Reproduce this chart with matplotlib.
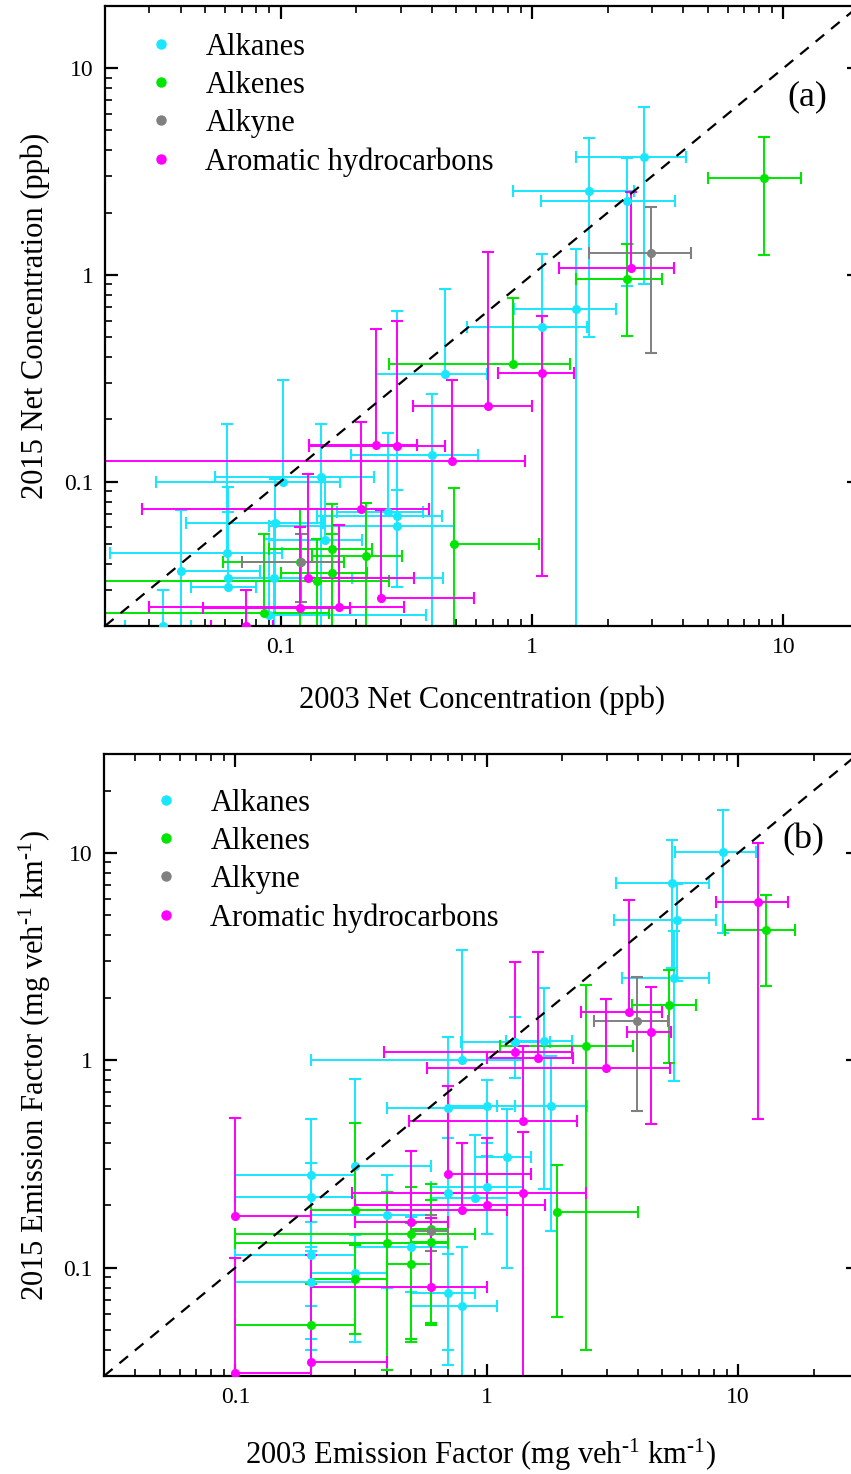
import numpy as np
import matplotlib
matplotlib.use("Agg")
import matplotlib.pyplot as plt
from matplotlib.lines import Line2D

plt.rcParams['font.family'] = ['Liberation Serif', 'DejaVu Serif']
plt.rcParams['mathtext.fontset'] = 'custom'
plt.rcParams['mathtext.rm'] = 'Liberation Serif'
plt.rcParams['mathtext.it'] = 'Liberation Serif'
plt.rcParams['mathtext.default'] = 'regular'

# colours
C_ALKANE = '#19E6FF'
C_ALKENE = '#00E600'
C_ALKYNE = '#808080'
C_AROM = '#FF00FF'

groups = ['Alkanes', 'Alkenes', 'Alkyne', 'Aromatic hydrocarbons']
colors = [C_ALKANE, C_ALKENE, C_ALKYNE, C_AROM]

# ---------------- panel (a): net concentration (ppb) ----------------
# x = 2003, y = 2015, errors are +/- (symmetric)
a_alkane_x = [2.8, 1.69, 2.39, 1.5, 1.1, 0.45, 0.40, 0.102, 0.145, 0.15, 0.061, 0.062,
              0.062, 0.040, 0.09, 0.094, 0.095, 0.034, 0.29, 0.29, 0.267]
a_alkane_xerr = [1.3, 0.85, 1.3, 0.65, 0.55, 0.21, 0.21, 0.07, 0.09, 0.06, 0.04, 0.13,
                 0.018, 0.043, 0.29, 0.35, 0.053, 0.01, 0.15, 0.2, 0.1]
a_alkane_y = [3.7, 2.55, 2.28, 0.68, 0.56, 0.33, 0.134, 0.099, 0.105, 0.052, 0.045, 0.034,
              0.031, 0.037, 0.0225, 0.034, 0.063, 0.02, 0.068, 0.061, 0.071]
a_alkane_yerr = [2.8, 2.05, 1.4, 0.66, 0.7, 0.52, 0.13, 0.21, 0.085, 0.053, 0.145, 0.06,
                 0.04, 0.036, 0.03, 0.03, 0.04, 0.01, 0.6, 0.03, 0.1]

a_alkene_x = [8.4, 2.39, 0.84, 0.49, 0.16, 0.119, 0.218, 0.16, 0.139, 0.086]
a_alkene_xerr = [3.4, 0.9, 0.57, 0.58, 0.07, 0.06, 0.085, 0.06, 0.13, 0.07]
a_alkene_y = [2.95, 0.956, 0.37, 0.05, 0.047, 0.041, 0.0435, 0.036, 0.033, 0.023]
a_alkene_yerr = [1.7, 0.45, 0.4, 0.043, 0.031, 0.033, 0.035, 0.02, 0.02, 0.033]

a_alkyne_x = [2.98, 0.12]
a_alkyne_xerr = [1.3, 0.05]
a_alkyne_y = [1.28, 0.041]
a_alkyne_yerr = [0.86, 0.015]

a_arom_x = [2.48, 1.1, 0.667, 0.48, 0.24, 0.29, 0.208, 0.128, 0.25, 0.17, 0.119, 0.073]
a_arom_xerr = [1.2, 0.37, 0.33, 0.46, 0.11, 0.16, 0.18, 0.21, 0.34, 0.14, 0.07, 0.02]
a_arom_y = [1.08, 0.335, 0.232, 0.126, 0.15, 0.149, 0.0735, 0.034, 0.0272, 0.0246, 0.0244, 0.02]
a_arom_yerr = [1.44, 0.3, 1.06, 0.185, 0.4, 0.45, 0.12, 0.075, 0.046, 0.037, 0.036, 0.01]

# ---------------- panel (b): emission factor (mg veh-1 km-1) ----------------
b_alkane_x = [8.7, 5.46, 5.7, 5.55, 1.69, 0.8, 0.7, 1.0, 1.8, 1.2, 0.7, 0.9, 1.0,
              0.3, 0.2, 0.2, 0.3, 0.2, 0.2, 0.7, 0.8, 0.5, 0.4, 1.29]
b_alkane_xerr = [3.1, 2.2, 2.5, 2.1, 0.5, 0.6, 0.3, 0.3, 0.7, 0.3, 0.2, 0.3, 0.4,
                 0.3, 0.1, 0.1, 0.1, 0.1, 0.1, 0.2, 0.3, 0.2, 0.2, 0.5]
b_alkane_y = [10.1, 7.2, 4.76, 2.49, 1.24, 1.0, 0.59, 0.6, 0.6, 0.34, 0.23, 0.217, 0.245,
              0.31, 0.28, 0.22, 0.094, 0.085, 0.115, 0.075, 0.065, 0.126, 0.18, 1.22]
b_alkane_yerr = [6.0, 4.4, 2.35, 1.7, 1.0, 2.4, 0.7, 0.2, 0.45, 0.24, 0.19, 0.22, 0.1,
                 0.5, 0.24, 0.1, 0.05, 0.04, 0.05, 0.041, 0.06, 0.05, 0.1, 0.4]

b_alkene_x = [12.9, 5.3, 2.48, 1.9, 0.5, 0.6, 0.6, 0.4, 0.5, 0.3, 0.3, 0.2]
b_alkene_xerr = [4.0, 1.5, 1.35, 2.1, 0.4, 0.1, 0.1, 0.3, 0.1, 0.1, 0.1, 0.1]
b_alkene_y = [4.27, 1.85, 1.17, 0.186, 0.145, 0.154, 0.133, 0.132, 0.104, 0.19, 0.088, 0.053]
b_alkene_yerr = [2.0, 0.88, 1.13, 0.128, 0.1, 0.1, 0.08, 0.1, 0.06, 0.31, 0.04, 0.03]

b_alkyne_x = [3.96, 0.6]
b_alkyne_xerr = [1.3, 0.1]
b_alkyne_y = [1.55, 0.15]
b_alkyne_yerr = [0.98, 0.03]

b_arom_x = [12.0, 3.68, 4.5, 2.98, 1.29, 1.6, 1.39, 1.39, 0.7, 0.8, 1.0, 0.5, 0.1, 0.1, 0.2, 0.6]
b_arom_xerr = [3.8, 1.3, 0.9, 2.4, 0.9, 0.6, 0.9, 1.1, 0.8, 0.4, 0.7, 0.2, 0.1, 0.1, 0.2, 0.4]
b_arom_y = [5.82, 1.71, 1.37, 0.915, 1.09, 1.03, 0.507, 0.23, 0.284, 0.19, 0.2, 0.166,
            0.177, 0.031, 0.035, 0.081]
b_arom_yerr = [5.3, 4.2, 0.88, 1.05, 1.9, 2.3, 0.67, 0.22, 0.47, 0.21, 0.22, 0.2,
               0.35, 0.08, 0.08, 0.093]

a_lim = (0.02, 20)
b_lim = (0.03, 30)


def draw_group(ax, x, xe, y, ye, color):
    x = np.asarray(x); xe = np.asarray(xe)
    y = np.asarray(y); ye = np.asarray(ye)
    # on a log axis a bar that would go to <= 0 is left out (only the upper part drawn)
    xlo_ok = x - xe > 0
    ylo_ok = y - ye > 0
    xlo = np.where(xlo_ok, x - xe, x)
    ylo = np.where(ylo_ok, y - ye, y)
    ax.hlines(y, xlo, x + xe, colors=color, lw=1.4, zorder=2)
    ax.vlines(x, ylo, y + ye, colors=color, lw=1.4, zorder=2)
    capx = np.concatenate([x + xe, xlo[xlo_ok]])
    capxy = np.concatenate([y, y[xlo_ok]])
    capy = np.concatenate([y + ye, ylo[ylo_ok]])
    capyx = np.concatenate([x, x[ylo_ok]])
    ax.plot(capx, capxy, ls='none', marker='|', ms=9, mew=1.5, color=color, zorder=2)
    ax.plot(capyx, capy, ls='none', marker='_', ms=9, mew=1.5, color=color, zorder=2)
    ax.plot(x, y, ls='none', marker='o', ms=5.5, color=color, zorder=3)


def style_axes(ax, lim):
    ax.set_xscale('log')
    ax.set_yscale('log')
    ax.set_xlim(lim)
    ax.set_ylim(lim)
    ax.plot(lim, lim, ls=(0, (5, 4)), color='black', lw=1.6, zorder=4)
    for s in ax.spines.values():
        s.set_linewidth(1.6)
    ax.tick_params(which='both', direction='in', top=True, right=True)
    ax.tick_params(which='major', length=9, width=1.6, labelsize=17, pad=8)
    ax.tick_params(which='minor', length=5, width=1.2)
    fmt = matplotlib.ticker.FuncFormatter(lambda v, p: '{:g}'.format(v))
    ax.xaxis.set_major_formatter(fmt)
    ax.yaxis.set_major_formatter(fmt)
    ax.xaxis.set_minor_formatter(matplotlib.ticker.NullFormatter())
    ax.yaxis.set_minor_formatter(matplotlib.ticker.NullFormatter())


fig = plt.figure(figsize=(8.51, 14.74), dpi=100)
ax_a = fig.add_axes([105 / 851, 1 - 626 / 1474, 754 / 851, 620 / 1474])
ax_b = fig.add_axes([104 / 851, 1 - 1376 / 1474, 754 / 851, 622 / 1474])

a_data = [(a_alkane_x, a_alkane_xerr, a_alkane_y, a_alkane_yerr),
          (a_alkene_x, a_alkene_xerr, a_alkene_y, a_alkene_yerr),
          (a_alkyne_x, a_alkyne_xerr, a_alkyne_y, a_alkyne_yerr),
          (a_arom_x, a_arom_xerr, a_arom_y, a_arom_yerr)]
b_data = [(b_alkane_x, b_alkane_xerr, b_alkane_y, b_alkane_yerr),
          (b_alkene_x, b_alkene_xerr, b_alkene_y, b_alkene_yerr),
          (b_alkyne_x, b_alkyne_xerr, b_alkyne_y, b_alkyne_yerr),
          (b_arom_x, b_arom_xerr, b_arom_y, b_arom_yerr)]

legend_anchor = {ax_a: (0.054, 0.957), ax_b: (0.062, 0.944)}
for ax, data, lim in [(ax_a, a_data, a_lim), (ax_b, b_data, b_lim)]:
    for (x, xe, y, ye), c in zip(data, colors):
        draw_group(ax, x, xe, y, ye, c)
    style_axes(ax, lim)
    handles = [Line2D([], [], ls='none', marker='o', ms=6.5, color=c) for c in colors]
    ax.legend(handles, groups, loc='upper left', bbox_to_anchor=legend_anchor[ax],
              frameon=False, fontsize=22, handletextpad=0.95, labelspacing=0.3,
              handlelength=1.0, borderaxespad=0, borderpad=0)

ax_a.text(0.932, 0.853, '(a)', transform=ax_a.transAxes, fontsize=26, ha='center', va='center')
ax_b.text(0.928, 0.862, '(b)', transform=ax_b.transAxes, fontsize=26, ha='center', va='center')

hy = '\u2010'
ax_a.set_xlabel('2003 Net Concentration (ppb)', fontsize=22)
ax_a.set_ylabel('2015 Net Concentration (ppb)', fontsize=22)
ax_b.set_xlabel('2003 Emission Factor (mg veh$^{' + hy + '1}$ km$^{' + hy + '1}$)', fontsize=22)
ax_b.set_ylabel('2015 Emission Factor (mg veh$^{' + hy + '1}$ km$^{' + hy + '1}$)', fontsize=22)

ax_a.xaxis.set_label_coords(0.5, -(700 - 626) / 620)
ax_a.yaxis.set_label_coords((35 - 105) / 754, 0.5)
ax_b.xaxis.set_label_coords(0.5, -(1455 - 1376) / 622)
ax_b.yaxis.set_label_coords((35 - 104) / 754, 0.5)
for ax in (ax_a, ax_b):
    ax.xaxis.label.set_verticalalignment('center')
    ax.yaxis.label.set_verticalalignment('center')

fig.savefig('out.png', dpi=100)
